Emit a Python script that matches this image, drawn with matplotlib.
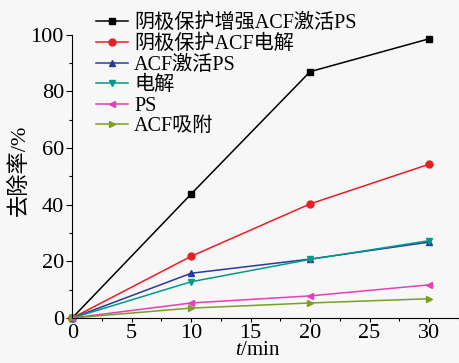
import matplotlib
matplotlib.use('Agg')
import matplotlib.pyplot as plt
from matplotlib.ticker import MultipleLocator

plt.rcParams['font.family'] = ['Liberation Serif', 'Noto Sans CJK SC']
plt.rcParams['mathtext.fontset'] = 'custom'
plt.rcParams['mathtext.it'] = 'Liberation Serif:italic'
plt.rcParams['mathtext.rm'] = 'Liberation Serif'

t = [0, 10, 20, 30]
s_black = [0, 43.8, 87, 98.6]
s_red = [0, 21.8, 40.3, 54.3]
s_blue = [0, 15.8, 20.8, 26.8]
s_teal = [0, 12.8, 20.7, 27.3]
s_pink = [0, 5.3, 7.8, 11.7]
s_olive = [0, 3.5, 5.3, 6.8]
labels = ['阴极保护增强ACF激活PS', '阴极保护ACF电解', 'ACF激活PS', '电解', 'PS', 'ACF吸附']

fig = plt.figure(figsize=(4.6, 3.63), dpi=100, facecolor='#f7f7f7')
ax = fig.add_axes([0.157, 0.124, 0.843, 0.78])
ax.set_facecolor('#f7f7f7')

ms = 5
ax.plot(t, s_black, color='black', marker='s', ms=ms, lw=1.1, label=labels[0], clip_on=False)
ax.plot(t, s_red, color='#ee1c24', marker='o', ms=ms, lw=1.1, label=labels[1], clip_on=False)
ax.plot(t, s_blue, color='#2b3a9a', marker='^', ms=ms, lw=1.1, label=labels[2], clip_on=False)
ax.plot(t, s_teal, color='#009a8a', marker='v', ms=ms, lw=1.1, label=labels[3], clip_on=False)
ax.plot(t, s_pink, color='#e040b8', marker='<', ms=ms, lw=1.1, label=labels[4], clip_on=False)
ax.plot(t, s_olive, color='#7aa020', marker='>', ms=ms, lw=1.1, label=labels[5], clip_on=False)

ax.set_xlim(0, 32.6)
ax.set_ylim(0, 100)
ax.xaxis.set_major_locator(MultipleLocator(5))
ax.xaxis.set_minor_locator(MultipleLocator(2.5))
ax.yaxis.set_major_locator(MultipleLocator(20))
ax.yaxis.set_minor_locator(MultipleLocator(10))
ax.tick_params(which='both', direction='out', labelsize=16, width=0.8)
ax.tick_params(which='major', length=4, pad=2)
ax.tick_params(axis='x', which='major', length=3, pad=1)
ax.tick_params(which='minor', length=2.5)
ax.spines['top'].set_visible(False)
ax.spines['right'].set_visible(False)

ax.set_xlabel('$t$/min', fontsize=15)
ax.xaxis.set_label_coords(0.48, -0.082)
ax.set_ylabel('去除率/%', fontsize=16)
ax.yaxis.set_label_coords(-0.11, 0.52)

ax.legend(loc='upper left', bbox_to_anchor=(0.208, 0.962), bbox_transform=fig.transFigure,
          frameon=False, fontsize=14.5, handlelength=1.6, handletextpad=0.3,
          labelspacing=0.07, borderpad=0, borderaxespad=0)

fig.savefig('out.png', dpi=100, facecolor=fig.get_facecolor())
